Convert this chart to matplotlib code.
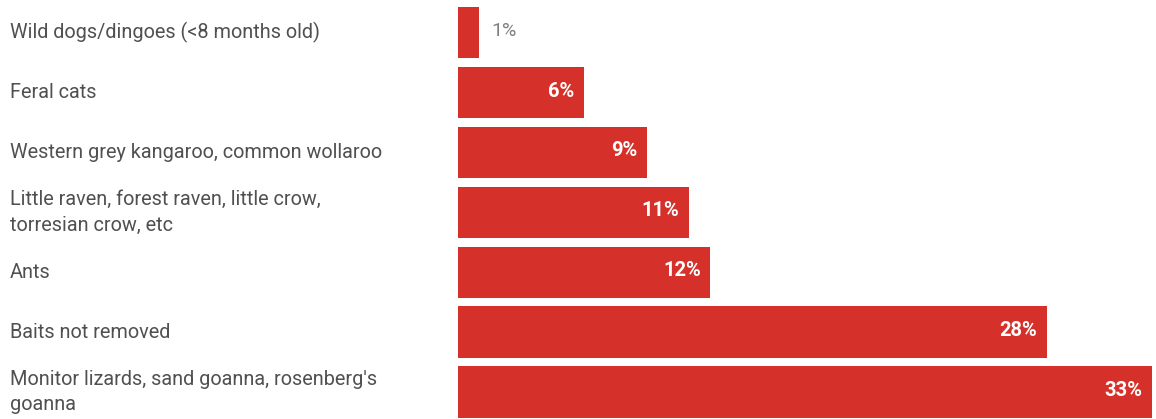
import numpy as np
import matplotlib.pyplot as plt

plt.rcParams['font.family'] = ['Roboto', 'DejaVu Sans']

categories = [
    "Wild dogs/dingoes (<8 months old)",
    "Feral cats",
    "Western grey kangaroo, common wollaroo",
    "Little raven, forest raven, little crow,\ntorresian crow, etc",
    "Ants",
    "Baits not removed",
    "Monitor lizards, sand goanna, rosenberg's\ngoanna",
]
values = [1, 6, 9, 11, 12, 28, 33]

bar_color = "#d5312a"
text_color = "#505050"

fig = plt.figure(figsize=(11.56, 4.19), dpi=100)
ax = fig.add_axes([458 / 1156, 0, 694 / 1156, 1])

y = np.arange(len(categories))
ax.barh(y, values, height=0.855, color=bar_color)
ax.set_xlim(0, 33)
ax.set_ylim(6.452, -0.543)
ax.axis("off")

for yi, cat, v in zip(y, categories, values):
    ax.annotate(cat, xy=(0, yi), xycoords=("figure fraction", "data"),
                xytext=(7, 0), textcoords="offset points",
                ha="left", va="center", fontsize=14.3, color=text_color,
                linespacing=1.45)
    if v < 3:
        ax.annotate(f"{v}%", xy=(v, yi), xytext=(9, 1), textcoords="offset points",
                    ha="left", va="center", fontsize=14, color="#808080")
    else:
        ax.annotate(f"{v}%", xy=(v, yi), xytext=(-7, 1), textcoords="offset points",
                    ha="right", va="center", fontsize=14.5, color="white",
                    fontweight="bold")

fig.savefig("out.png", dpi=100)
